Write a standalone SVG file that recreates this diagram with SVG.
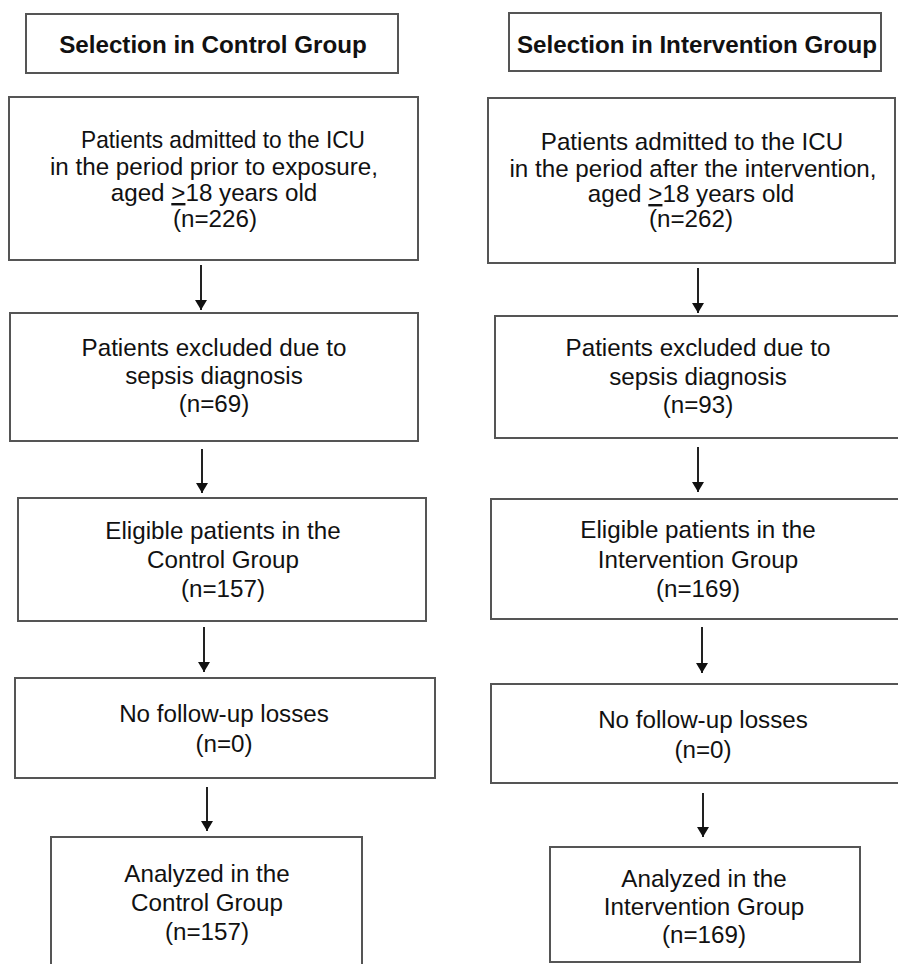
<svg xmlns="http://www.w3.org/2000/svg" width="898" height="964" viewBox="0 0 898 964">
<style>
.box{fill:#fff;stroke:#555;stroke-width:2}
.t{font-family:"Liberation Sans",Arial,sans-serif;font-size:24.2px;fill:#111;text-anchor:middle}
.h{font-family:"Liberation Sans",Arial,sans-serif;font-size:24.2px;font-weight:bold;fill:#111;text-anchor:middle}
.c{stroke:#222;stroke-width:2;fill:none}
</style>
<defs>
<marker id="ah" markerWidth="10" markerHeight="12" refX="10" refY="6" orient="auto" markerUnits="userSpaceOnUse" viewBox="0 0 10 12">
<path d="M0,0 L10,6 L0,12 Z" fill="#111"/>
</marker>
</defs>
<rect width="898" height="964" fill="#fff"/>
<g id="title-control"><rect class="box" x="26" y="14" width="372" height="59"/><text class="h" x="213" y="53">Selection in Control Group</text></g>
<g id="title-intervention"><rect class="box" x="509" y="13" width="372" height="58"/><text class="h" x="697" y="53">Selection in Intervention Group</text></g>

<g id="c1"><rect class="box" x="9" y="97" width="409" height="163"/>
<text class="t" x="223" y="148" textLength="284" lengthAdjust="spacingAndGlyphs">Patients admitted to the ICU</text>
<text class="t" x="214" y="175">in the period prior to exposure,</text>
<text class="t" x="214" y="201">aged <tspan text-decoration="underline">&gt;</tspan>18 years old</text>
<text class="t" x="215" y="227">(n=226)</text></g>
<g id="c2"><rect class="box" x="10" y="313" width="408" height="128"/>
<text class="t" x="214" y="356">Patients excluded due to</text>
<text class="t" x="214" y="384">sepsis diagnosis</text>
<text class="t" x="214" y="412">(n=69)</text></g>
<g id="c3"><rect class="box" x="18" y="498" width="408" height="123"/>
<text class="t" x="223" y="539">Eligible patients in the</text>
<text class="t" x="223" y="568">Control Group</text>
<text class="t" x="223" y="597">(n=157)</text></g>
<g id="c4"><rect class="box" x="15" y="678" width="420" height="100"/>
<text class="t" x="224" y="722">No follow-up losses</text>
<text class="t" x="224" y="752">(n=0)</text></g>
<g id="c5"><rect class="box" x="51" y="837" width="311" height="140"/>
<text class="t" x="207" y="882">Analyzed in the</text>
<text class="t" x="207" y="911">Control Group</text>
<text class="t" x="207" y="940">(n=157)</text></g>

<g id="i1"><rect class="box" x="488" y="98" width="407" height="165"/>
<text class="t" x="692" y="150">Patients admitted to the ICU</text>
<text class="t" x="693" y="177">in the period after the intervention,</text>
<text class="t" x="691" y="202">aged <tspan text-decoration="underline">&gt;</tspan>18 years old</text>
<text class="t" x="691" y="227">(n=262)</text></g>
<g id="i2"><rect class="box" x="495" y="316" width="420" height="122"/>
<text class="t" x="698" y="356">Patients excluded due to</text>
<text class="t" x="698" y="385">sepsis diagnosis</text>
<text class="t" x="698" y="413">(n=93)</text></g>
<g id="i3"><rect class="box" x="491" y="499" width="420" height="120"/>
<text class="t" x="698" y="538">Eligible patients in the</text>
<text class="t" x="698" y="568">Intervention Group</text>
<text class="t" x="698" y="597">(n=169)</text></g>
<g id="i4"><rect class="box" x="491" y="684" width="420" height="99"/>
<text class="t" x="703" y="728">No follow-up losses</text>
<text class="t" x="703" y="758">(n=0)</text></g>
<g id="i5"><rect class="box" x="550" y="847" width="310" height="115"/>
<text class="t" x="704" y="887">Analyzed in the</text>
<text class="t" x="704" y="915">Intervention Group</text>
<text class="t" x="704" y="943">(n=169)</text></g>

<g id="connectors">
<line class="c" x1="201" y1="265" x2="201" y2="310" marker-end="url(#ah)"/>
<line class="c" x1="202" y1="449" x2="202" y2="493" marker-end="url(#ah)"/>
<line class="c" x1="204" y1="627" x2="204" y2="672" marker-end="url(#ah)"/>
<line class="c" x1="207" y1="787" x2="207" y2="831" marker-end="url(#ah)"/>
<line class="c" x1="698" y1="268" x2="698" y2="313" marker-end="url(#ah)"/>
<line class="c" x1="698" y1="447" x2="698" y2="492" marker-end="url(#ah)"/>
<line class="c" x1="702" y1="627" x2="702" y2="673" marker-end="url(#ah)"/>
<line class="c" x1="703" y1="793" x2="703" y2="837" marker-end="url(#ah)"/>
</g>
</svg>
